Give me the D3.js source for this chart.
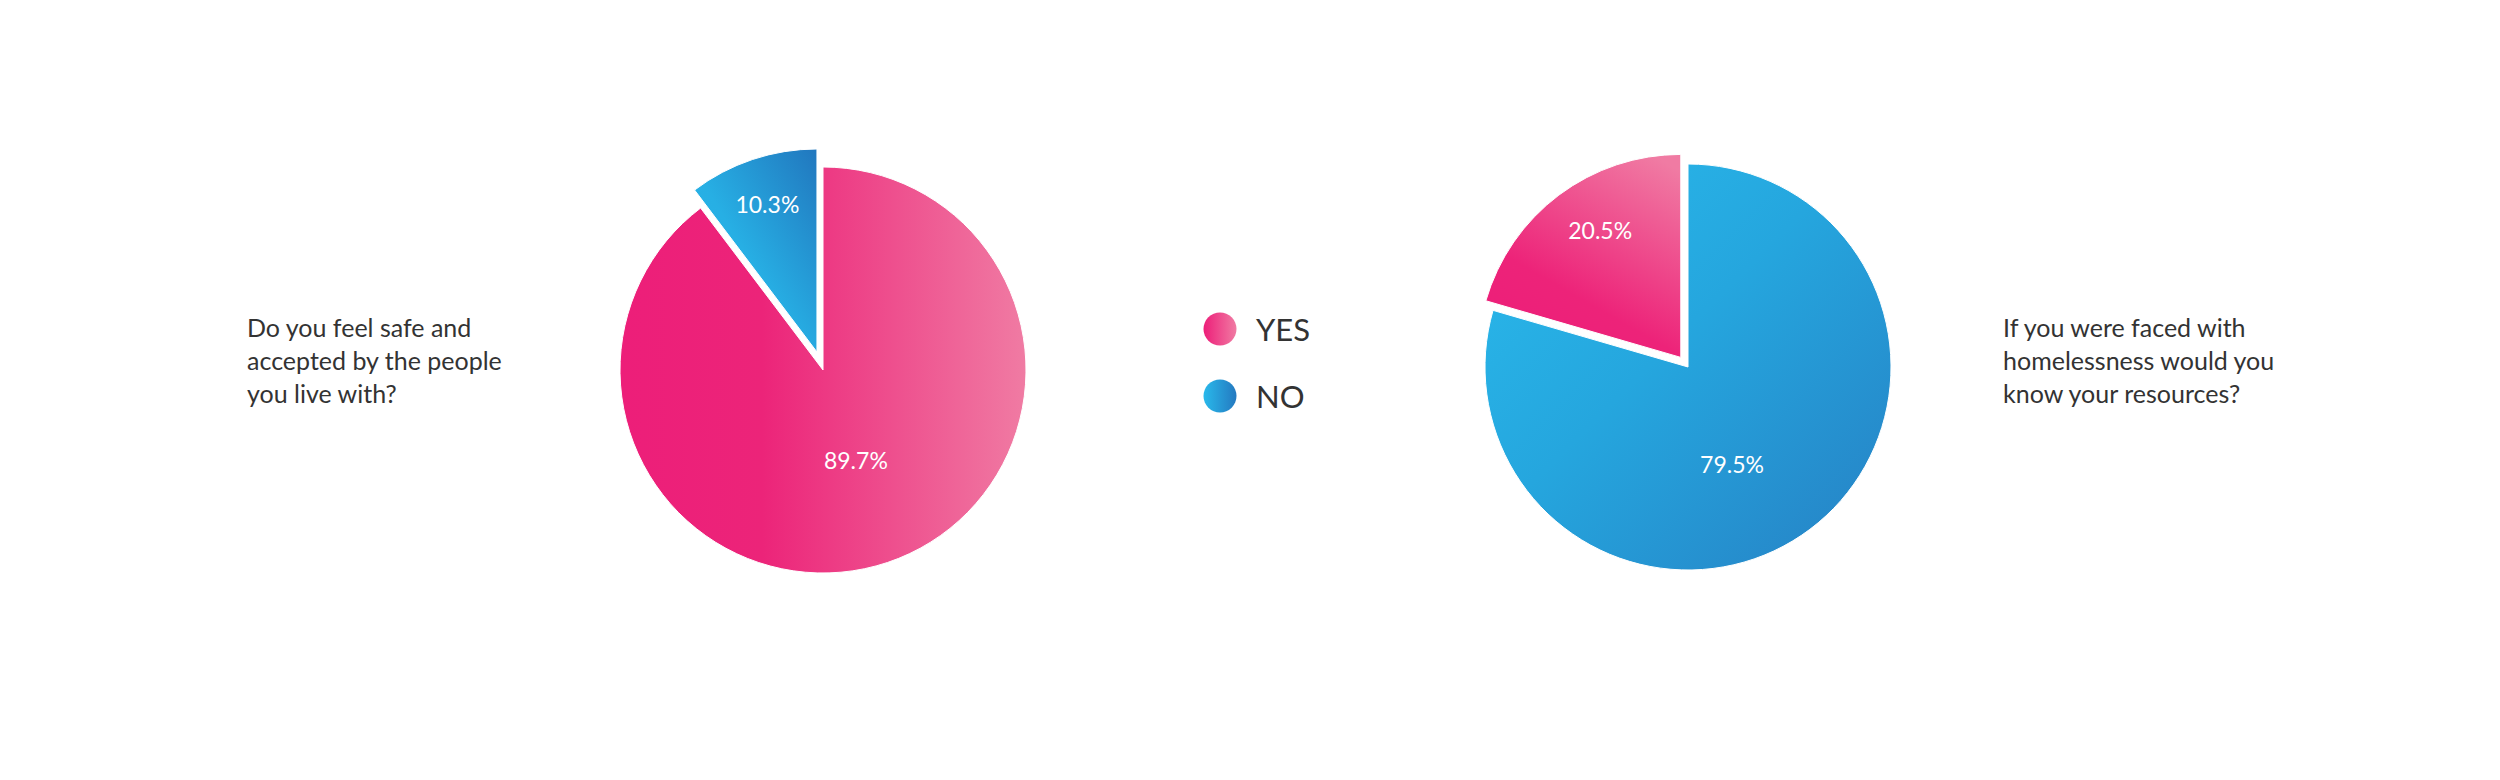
<!DOCTYPE html>
<html>
<head>
<meta charset="utf-8">
<script src="https://cdn.jsdelivr.net/npm/d3@7"></script>
<style>
  html, body { margin: 0; padding: 0; background: #ffffff; }
  svg { display: block; }
</style>
</head>
<body>
<svg id="chart" width="2500" height="780"></svg>
<script>
// ---- data ----
const categories = ["YES", "NO"];
const questions = [
  ["Do you feel safe and", "accepted by the people", "you live with?"],
  ["If you were faced with", "homelessness would you", "know your resources?"]
];
const pie1Values = [89.7, 10.3];   // YES, NO
const pie2Values = [20.5, 79.5];   // YES, NO
const pie1Labels = ["89.7%", "10.3%"];
const pie2Labels = ["20.5%", "79.5%"];

// ---- layout / style ----
const R = 203;
const svg = d3.select("#chart");
const defs = svg.append("defs");

function grad(id, x1, y1, x2, y2, stops) {
  const g = defs.append("linearGradient").attr("id", id)
    .attr("x1", x1).attr("y1", y1).attr("x2", x2).attr("y2", y2);
  stops.forEach(s => g.append("stop").attr("offset", s[0]).attr("stop-color", s[1]));
}
grad("p1yes", 0, 0, 1, 0, [[0, "#ED1E79"], [0.35, "#EC2479"], [1, "#F07BA3"]]);
grad("p1no", 0, 1, 1, 0, [[0, "#29B7EA"], [0.45, "#27AFE4"], [1, "#2177BE"]]);
grad("p2yes", 0.3, 1, 0.85, 0, [[0, "#ED1E79"], [0.3, "#ED2379"], [1, "#F07BA3"]]);
grad("p2no", 0, 0, 1, 1, [[0, "#2ABBEC"], [0.45, "#25A6DE"], [1, "#2680C4"]]);
grad("legYes", 0, 0, 1, 0, [[0, "#ED1E79"], [1, "#F07BA3"]]);
grad("legNo", 0, 0, 1, 0, [[0, "#29B9EB"], [1, "#2479C0"]]);

const arcGen = d3.arc().innerRadius(0).outerRadius(R);
const TAU = 2 * Math.PI;

const pies = [
  // YES starts at 12 o'clock, clockwise
  { cx: 823, cy: 370, values: pie1Values, labels: pie1Labels, fills: ["url(#p1yes)", "url(#p1no)"],
    start: 0, explode: [0, 19], labelR: [0.473 * R, 0.768 * R], labelTurn: [-0.026, 0] },
  // YES ends at 12 o'clock (sits in the top-left)
  { cx: 1688, cy: 367, values: pie2Values, labels: pie2Labels, fills: ["url(#p2yes)", "url(#p2no)"],
    start: -TAU * pie2Values[0] / d3.sum(pie2Values), explode: [12, 0],
    labelR: [0.742 * R, 0.525 * R], labelTurn: [0.079, 0.218] }
];

pies.forEach(p => {
  const g = svg.append("g").attr("transform", `translate(${p.cx},${p.cy})`);
  const arcs = d3.pie().sort(null).value(d => d)
    .startAngle(p.start).endAngle(p.start + TAU)(p.values);
  arcs.forEach((a, i) => {
    const mid = (a.startAngle + a.endAngle) / 2;
    const ox = Math.sin(mid) * p.explode[i], oy = -Math.cos(mid) * p.explode[i];
    const sg = g.append("g").attr("transform", `translate(${ox},${oy})`);
    sg.append("path").attr("d", arcGen(a)).attr("fill", p.fills[i])
      .attr("stroke", "#ffffff").attr("stroke-width", 1);
    const lr = p.labelR[i];
    const la = { startAngle: a.startAngle + p.labelTurn[i], endAngle: a.endAngle + p.labelTurn[i] };
    const c = d3.arc().innerRadius(lr).outerRadius(lr).centroid(la);
    sg.append("text").attr("x", c[0]).attr("y", c[1])
      .attr("text-anchor", "middle").attr("dominant-baseline", "central")
      .attr("font-family", "Lato, 'Open Sans', sans-serif").attr("font-size", 23)
      .attr("fill", "#ffffff").text(p.labels[i]);
  });
});

// ---- questions ----
const qPos = [[247, 337], [2003, 337]];
questions.forEach((lines, qi) => {
  const t = svg.append("text").attr("x", qPos[qi][0]).attr("y", qPos[qi][1])
    .attr("font-family", "Lato, 'Open Sans', sans-serif").attr("font-size", 25)
    .attr("fill", "#333333");
  lines.forEach((l, li) => {
    t.append("tspan").attr("x", qPos[qi][0]).attr("y", qPos[qi][1] + li * 33).text(l);
  });
});

// ---- legend ----
const legFills = ["url(#legYes)", "url(#legNo)"];
const leg = svg.append("g");
categories.forEach((c, i) => {
  const y = 329 + i * 67;
  leg.append("circle").attr("cx", 1220).attr("cy", y).attr("r", 16.5).attr("fill", legFills[i]);
  leg.append("text").attr("x", 1256).attr("y", y).attr("dominant-baseline", "central")
    .attr("font-family", "Lato, 'Open Sans', sans-serif").attr("font-size", 31)
    .attr("fill", "#333333").text(c);
});
</script>
</body>
</html>
